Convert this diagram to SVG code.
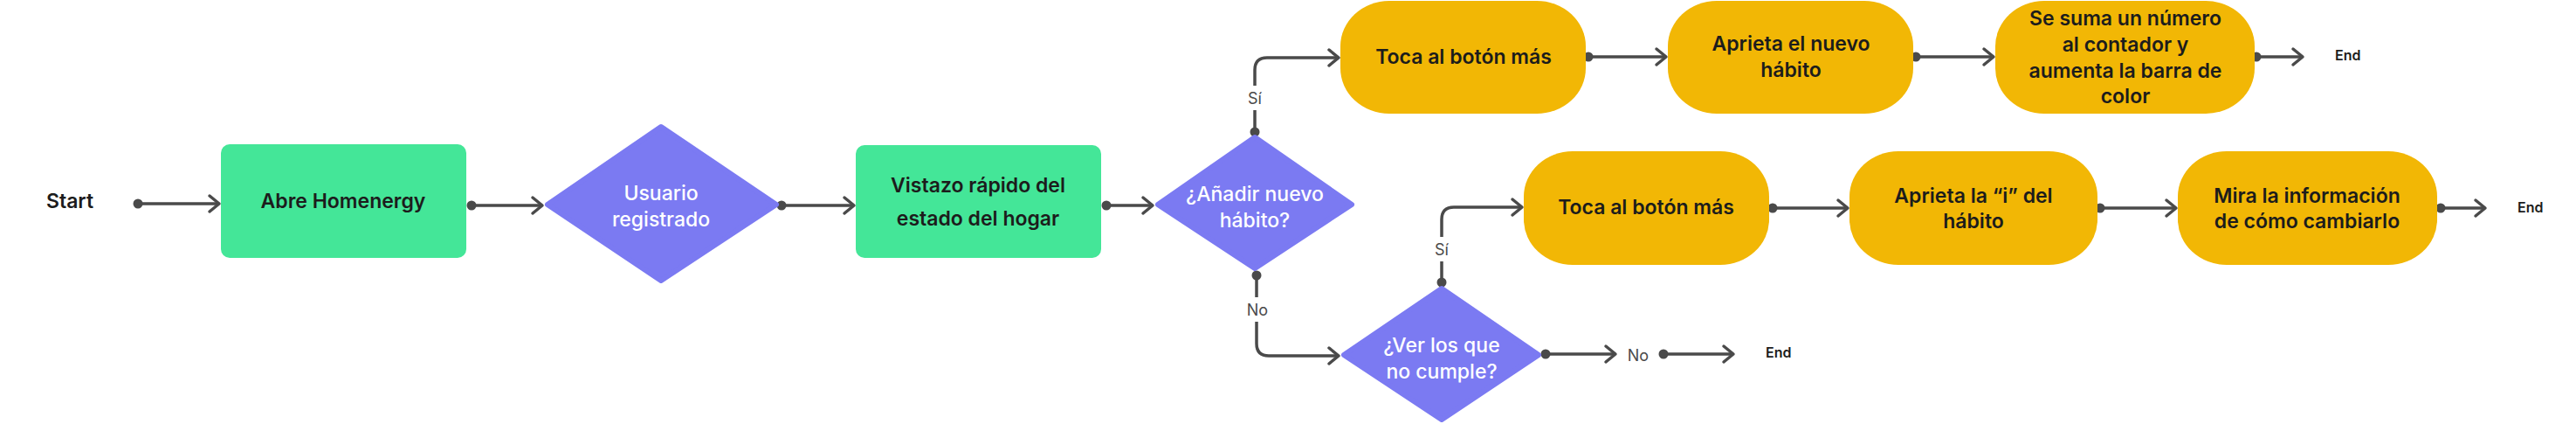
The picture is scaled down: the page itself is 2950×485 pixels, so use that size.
<svg xmlns="http://www.w3.org/2000/svg" width="2950" height="485" viewBox="0 0 2950 485">
<style>
.bg{fill:#ffffff}
.proc{fill:#44E698}
.act{fill:#F2B705}
.dec{fill:#7B7AF2;stroke:#7B7AF2;stroke-width:6;stroke-linejoin:round}
.t{font-family:Inter,'Liberation Sans',sans-serif;font-size:23px;font-weight:600;fill:#1c1c1c;text-anchor:middle;dominant-baseline:central}
.tw{font-family:Inter,'Liberation Sans',sans-serif;font-size:23px;font-weight:500;fill:#ffffff;text-anchor:middle;dominant-baseline:central}
.end{font-family:Inter,'Liberation Sans',sans-serif;font-size:16px;font-weight:600;fill:#1c1c1c;text-anchor:start;dominant-baseline:central}
.lbl{font-family:Inter,'Liberation Sans',sans-serif;font-size:18px;font-weight:400;fill:#4a4a4a;text-anchor:middle;dominant-baseline:central}
.c{fill:none;stroke:#4a4a4a;stroke-width:3.5;marker-start:url(#dot);marker-end:url(#arr)}
.lb{fill:#ffffff}
</style>
<defs>
<marker id="arr" markerUnits="userSpaceOnUse" markerWidth="20" markerHeight="24" refX="14" refY="12" orient="auto" viewBox="0 0 20 24">
<path d="M3,3 L14,12 L3,21" fill="none" stroke="#4a4a4a" stroke-width="3.5" stroke-linecap="round" stroke-linejoin="round"/>
</marker>
<marker id="dot" markerUnits="userSpaceOnUse" markerWidth="12" markerHeight="12" refX="6" refY="6" orient="auto" viewBox="0 0 12 12">
<circle cx="6" cy="6" r="5.5" fill="#4a4a4a"/>
</marker>
</defs>
<rect class="bg" x="0" y="0" width="2950" height="485"/>

<g id="connectors">
<path class="c" d="M158,233 H251"/>
<path class="c" d="M540,235 H621"/>
<path class="c" d="M895,235 H978"/>
<path class="c" d="M1267,235 H1320"/>
<path class="c" d="M1437,151 V80 Q1437,66 1451,66 H1533"/>
<path class="c" d="M1439,315 V393 Q1439,407 1453,407 H1533"/>
<path class="c" d="M1651,323 V251 Q1651,237 1665,237 H1743"/>
<path class="c" d="M1770,405 H1850"/>
<path class="c" d="M1905,405 H1985"/>
<path class="c" d="M1819,65 H1908"/>
<path class="c" d="M2194,65 H2283"/>
<path class="c" d="M2584,65 H2637"/>
<path class="c" d="M2030,238 H2116"/>
<path class="c" d="M2405,238 H2492"/>
<path class="c" d="M2795,238 H2846"/>
<rect class="lb" x="1425" y="98" width="24" height="28"/>
<text class="lbl" x="1437" y="112">Sí</text>
<rect class="lb" x="1424" y="340" width="32" height="28"/>
<text class="lbl" x="1440" y="354">No</text>
<rect class="lb" x="1639" y="271" width="24" height="28"/>
<text class="lbl" x="1651" y="285">Sí</text>
</g>

<g id="start"><text class="t" x="80" y="230">Start</text></g>

<g id="abre">
<rect class="proc" x="253" y="165" width="281" height="130" rx="10"/>
<text class="t" x="393" y="230">Abre Homenergy</text>
</g>

<g id="usuario">
<polygon class="dec" points="757,145 889,234 757,321 627,234"/>
<text class="tw" x="757" y="221">Usuario</text>
<text class="tw" x="757" y="251">registrado</text>
</g>

<g id="vistazo">
<rect class="proc" x="980" y="166" width="281" height="129" rx="10"/>
<text class="t" x="1120" y="212">Vistazo rápido del</text>
<text class="t" x="1120" y="250">estado del hogar</text>
</g>

<g id="anadir">
<polygon class="dec" points="1437,157 1548,234 1437,307 1326,234"/>
<text class="tw" x="1437" y="222">¿Añadir nuevo</text>
<text class="tw" x="1437" y="252">hábito?</text>
</g>

<g id="ver">
<polygon class="dec" points="1651,330 1762,406 1651,480 1539,406"/>
<text class="tw" x="1651" y="395">¿Ver los que</text>
<text class="tw" x="1651" y="425">no cumple?</text>
</g>

<g id="no"><text class="lbl" x="1876" y="406">No</text></g>
<g id="end3"><text class="end" x="2022" y="403">End</text></g>

<g id="toca1">
<rect class="act" x="1535" y="1" width="281" height="129" rx="56" ry="52"/>
<text class="t" x="1676" y="65">Toca al botón más</text>
</g>

<g id="aprieta1">
<rect class="act" x="1910" y="1" width="281" height="129" rx="56" ry="52"/>
<text class="t" x="2051" y="50">Aprieta el nuevo</text>
<text class="t" x="2051" y="80">hábito</text>
</g>

<g id="suma">
<rect class="act" x="2285" y="1" width="297" height="129" rx="56" ry="52"/>
<text class="t" x="2434" y="21">Se suma un número</text>
<text class="t" x="2434" y="51">al contador y</text>
<text class="t" x="2434" y="81">aumenta la barra de</text>
<text class="t" x="2434" y="110">color</text>
</g>

<g id="end1"><text class="end" x="2674" y="63">End</text></g>

<g id="toca2">
<rect class="act" x="1745" y="173" width="281" height="130" rx="56" ry="52"/>
<text class="t" x="1885" y="237">Toca al botón más</text>
</g>

<g id="aprieta2">
<rect class="act" x="2118" y="173" width="284" height="130" rx="56" ry="52"/>
<text class="t" x="2260" y="224">Aprieta la “i” del</text>
<text class="t" x="2260" y="253">hábito</text>
</g>

<g id="mira">
<rect class="act" x="2494" y="173" width="297" height="130" rx="56" ry="52"/>
<text class="t" x="2642" y="224">Mira la información</text>
<text class="t" x="2642" y="253">de cómo cambiarlo</text>
</g>

<g id="end2"><text class="end" x="2883" y="237">End</text></g>
</svg>
